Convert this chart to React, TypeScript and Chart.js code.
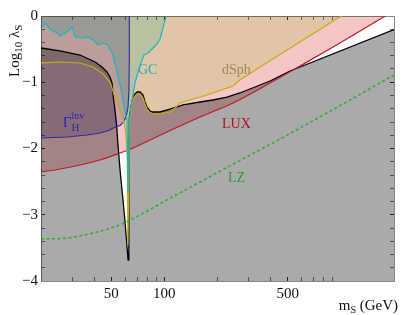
import React, { useEffect, useRef } from 'react';
import { Chart, registerables } from 'chart.js';

Chart.register(...registerables);

// ---- axis ticks ----
const X_TICKS = [30, 40, 50, 60, 70, 80, 90, 100, 200, 300, 400, 500, 600, 700, 800, 900];
const X_LABELS = [50, 100, 500];
const Y_MAJOR = [0, -1, -2, -3, -4];

// ---- relic abundance (black) ----
const RELIC_M = [20, 25.6, 33.3, 40.5, 44.3, 47.3, 49.2, 50.5, 51.2, 52.5, 53.6, 54.6, 56.1, 57.9, 59.4, 61.0, 62.3, 62.8, 63.0, 63.4, 64.7, 65.6, 67.3, 70.0, 72.8, 75.7, 77.7, 79.7, 82.9, 86.2, 94.5, 107.6, 127.5, 159.2, 188.6, 226.4, 268, 397, 515, 2000];
const RELIC_L = [-0.483, -0.528, -0.589, -0.694, -0.770, -0.845, -0.921, -1.011, -1.192, -1.419, -1.645, -1.947, -2.325, -2.702, -3.004, -3.381, -3.683, -3.23, -2.02, -1.525, -1.374, -1.298, -1.192, -1.147, -1.147, -1.192, -1.298, -1.374, -1.434, -1.449, -1.449, -1.404, -1.343, -1.298, -1.268, -1.223, -1.162, -0.981, -0.830, -0.205];

// ---- LUX (red) ----
const LUX_M = [20, 25.6, 33.3, 43.2, 56.1, 66.4, 103.5, 159.2, 244.8, 396.9, 587, 988.6, 1826, 2000];
const LUX_L = [-2.355, -2.309, -2.249, -2.174, -2.068, -1.992, -1.751, -1.525, -1.313, -1.011, -0.755, -0.408, 0.015, 0.075];

// ---- Higgs invisible width (blue) ----
const GINV_M = [20, 28.1, 36.4, 43.2, 49.2, 52.5, 56.1, 58.3, 60.6, 62.2, 63.0, 63.3, 63.3];
const GINV_L = [-1.842, -1.826, -1.796, -1.766, -1.721, -1.675, -1.653, -1.608, -1.525, -1.389, -1.117, -0.664, 0.02];

// ---- dSph (yellow) ----
const DSPH_M = [20, 25.6, 33.3, 39.4, 44.9, 49.2, 52.5, 56.1, 59.1, 60.6, 61.7, 62.1, 62.7, 63.2, 63.9, 65.6, 67.3, 70.0, 72.8, 75.7, 77.7, 79.7, 82.9, 86.2, 94.5, 107.6, 114.9, 122.6, 127.5, 174.4, 244.8, 268, 334.9, 495, 1028, 1126];
const DSPH_L = [-0.709, -0.694, -0.709, -0.770, -0.875, -0.996, -1.223, -1.419, -1.600, -1.796, -2.174, -3.457, -2.777, -1.721, -1.570, -1.328, -1.223, -1.177, -1.177, -1.238, -1.328, -1.404, -1.464, -1.479, -1.479, -1.449, -1.389, -1.313, -1.298, -1.192, -1.057, -0.966, -0.800, -0.513, 0.015, 0.075];

// ---- GC (cyan) ----
const GC_M = [20, 21.1, 22.5, 24.6, 25.6, 28.1, 30.0, 31.2, 34.2, 36.9, 39.4, 42.1, 44.9, 47.9, 50.5, 52.5, 54.6, 57.5, 59.1, 61.4, 61.9, 62.2, 62.6, 63.0, 63.9, 65.6, 68.2, 70.9, 74.7, 76.7, 80.8, 86.2, 90.8, 94.5, 98.2, 100.8, 103.5, 104.9];
const GC_L = [-0.196, -0.106, -0.196, -0.257, -0.302, -0.242, -0.166, -0.317, -0.332, -0.317, -0.362, -0.438, -0.408, -0.438, -0.558, -0.709, -0.921, -1.162, -1.374, -1.570, -2.174, -2.672, -2.174, -1.721, -1.464, -1.268, -1.011, -0.845, -0.664, -0.589, -0.558, -0.483, -0.423, -0.347, -0.181, -0.060, 0.015, 0.06];

// ---- LZ projection (green dashed) ----
const LZ_M = [20, 28.1, 39.4, 53.9, 72.8, 100.8, 159.2, 258, 452, 1126, 2000];
const LZ_L = [-3.366, -3.351, -3.275, -3.170, -3.004, -2.792, -2.506, -2.204, -1.857, -1.268, -0.891];

const SERIF = '"Liberation Serif", "Times New Roman", serif';
const font = (s: number) => `${s}px ${SERIF}`;

type Part = { t: string; s: number; dy?: number; stay?: boolean };
const TEXT_LABELS: { m: number; l: number; color: string; parts: Part[] }[] = [
  { m: 26.6, l: -1.676, color: '#2a2aa8', parts: [{ t: 'Γ', s: 15 }, { t: 'H', s: 11, dy: 4, stay: true }, { t: 'inv', s: 10, dy: -8 }] },
  { m: 70.9, l: -0.875, color: '#1fb2bb', parts: [{ t: 'GC', s: 14 }] },
  { m: 212, l: -0.875, color: '#a98256', parts: [{ t: 'dSph', s: 14 }] },
  { m: 212, l: -1.69, color: '#b01222', parts: [{ t: 'LUX', s: 14 }] },
  { m: 229, l: -2.506, color: '#2e9e2e', parts: [{ t: 'LZ', s: 14 }] },
];

const pts = (ms: number[], ls: number[]) => ms.map((m, i) => ({ x: m, y: ls[i] }));

const drawParts = (ctx: CanvasRenderingContext2D, parts: Part[], x: number, y: number) => {
  let cx = x;
  for (const p of parts) {
    ctx.font = font(p.s);
    ctx.fillText(p.t, cx, y + (p.dy || 0));
    if (!p.stay) cx += ctx.measureText(p.t).width;
  }
};
const partsWidth = (ctx: CanvasRenderingContext2D, parts: Part[]) => {
  let w = 0;
  for (const p of parts) {
    ctx.font = font(p.s);
    if (!p.stay) w += ctx.measureText(p.t).width;
  }
  return w;
};

const blendPlugin = {
  id: 'blendAndText',
  beforeDatasetsDraw(chart: any) {
    chart.ctx.globalCompositeOperation = 'multiply';
  },
  beforeDatasetDraw(chart: any, args: any) {
    const ds = chart.data.datasets[args.index];
    chart.ctx.globalCompositeOperation = ds.fill ? 'multiply' : 'source-over';
  },
  afterDatasetsDraw(chart: any) {
    chart.ctx.globalCompositeOperation = 'source-over';
  },
  afterDraw(chart: any) {
    const ctx: CanvasRenderingContext2D = chart.ctx;
    const xs = chart.scales.x;
    const ys = chart.scales.y;
    const ca = chart.chartArea;
    ctx.save();
    ctx.globalCompositeOperation = 'source-over';
    ctx.textAlign = 'left';
    ctx.textBaseline = 'alphabetic';
    for (const lab of TEXT_LABELS) {
      ctx.fillStyle = lab.color;
      drawParts(ctx, lab.parts, xs.getPixelForValue(lab.m), ys.getPixelForValue(lab.l));
    }
    ctx.fillStyle = '#111';
    const xt: Part[] = [{ t: 'm', s: 15 }, { t: 'S', s: 10, dy: 3 }, { t: ' (GeV)', s: 15 }];
    const w = partsWidth(ctx, xt);
    drawParts(ctx, xt, ca.right + 4 - w, ca.bottom + 29);
    ctx.save();
    ctx.translate(ca.left - 22, ca.top + 61);
    ctx.rotate(-Math.PI / 2);
    drawParts(ctx, [{ t: 'Log', s: 15 }, { t: '10', s: 11, dy: 3 }, { t: ' λ', s: 15 }, { t: 'S', s: 11, dy: 3 }], 0, 0);
    ctx.restore();
    ctx.restore();
  },
};

export default function App() {
  const ref = useRef<HTMLCanvasElement>(null);
  useEffect(() => {
    const canvas = ref.current;
    if (!canvas) return;

    const fillDs = (ms: number[], ls: number[], color: string, fill: string, order: number, mono = false) => ({
      data: pts(ms, ls),
      fill,
      backgroundColor: color,
      borderColor: 'rgba(0,0,0,0)',
      borderWidth: 0,
      pointRadius: 0,
      order,
      tension: 0,
      cubicInterpolationMode: mono ? 'monotone' : 'default',
    });
    const lineDs = (ms: number[], ls: number[], color: string, width: number, order: number, dash: number[] = [], mono = false) => ({
      data: pts(ms, ls),
      fill: false,
      borderColor: color,
      backgroundColor: color,
      borderWidth: width,
      borderDash: dash,
      pointRadius: 0,
      order,
      tension: 0,
      cubicInterpolationMode: mono ? 'monotone' : 'default',
    });

    const yTicks: number[] = [];
    for (let i = 0; i <= 20; i++) yTicks.push(Math.round((-4 + i * 0.2) * 10) / 10);

    const xTickCfg = (labels: boolean, h: number, pos: string) => ({
      type: 'logarithmic',
      position: pos,
      min: 20,
      max: 2000,
      z: 1,
      afterBuildTicks: (s: any) => { s.ticks = X_TICKS.map((v) => ({ value: v })); },
      afterFit: (s: any) => { s.height = h; },
      ticks: {
        display: labels,
        autoSkip: false,
        maxRotation: 0,
        minRotation: 0,
        padding: 8,
        color: '#111',
        font: { family: SERIF, size: 15 },
        callback: (v: any) => (X_LABELS.includes(Number(v)) ? String(v) : ''),
      },
      grid: {
        drawOnChartArea: false,
        drawTicks: true,
        tickLength: -4,
        tickWidth: 1,
        tickColor: (c: any) => (c.tick && X_LABELS.includes(c.tick.value) ? '#333' : '#777'),
      },
      border: { display: true, color: '#888', width: 1 },
    });
    const yTickCfg = (labels: boolean, w: number, pos: string) => ({
      type: 'linear',
      position: pos,
      min: -4,
      max: 0,
      z: 1,
      afterBuildTicks: (s: any) => { s.ticks = yTicks.map((v) => ({ value: v })); },
      afterFit: (s: any) => { s.width = w; },
      ticks: {
        display: labels,
        autoSkip: false,
        padding: 7,
        color: '#111',
        font: { family: SERIF, size: 15 },
        callback: (v: any) => {
          const n = Number(v);
          if (!Y_MAJOR.includes(n)) return '';
          return n === 0 ? '0' : '\u2212' + Math.abs(n);
        },
      },
      grid: {
        drawOnChartArea: false,
        drawTicks: true,
        tickLength: -4,
        tickWidth: 1,
        tickColor: (c: any) => (c.tick && Number.isInteger(c.tick.value) ? '#333' : '#777'),
      },
      border: { display: true, color: '#888', width: 1 },
    });

    const chart = new Chart(canvas, {
      type: 'line',
      data: {
        datasets: [
          // lines (drawn last, normal compositing)
          lineDs(LZ_M, LZ_L, '#2fae2f', 1.5, 1, [3, 2.5], true),
          lineDs(GC_M, GC_L, '#1eb5bf', 1.2, 2),
          lineDs(DSPH_M, DSPH_L, '#c4ac12', 1.2, 3),
          lineDs(GINV_M, GINV_L, '#2b2a9a', 1.1, 4),
          lineDs(LUX_M, LUX_L, '#c01a26', 1.2, 5, [], true),
          lineDs(RELIC_M, RELIC_L, '#000000', 1.3, 6),
          // filled regions (multiplied onto each other)
          fillDs(GC_M, GC_L, 'rgb(210,249,247)', 'end', 11),
          fillDs(DSPH_M, DSPH_L, 'rgb(234,255,215)', 'end', 12),
          fillDs(GINV_M, GINV_L, 'rgb(211,204,235)', 'end', 13),
          fillDs(LUX_M, LUX_L, 'rgb(245,198,198)', 'end', 14, true),
          fillDs(RELIC_M, RELIC_L, 'rgb(170,170,170)', 'start', 15),
        ] as any,
      },
      options: {
        responsive: false,
        maintainAspectRatio: false,
        animation: false,
        devicePixelRatio: 1,
        events: [],
        layout: { padding: 0 },
        plugins: { legend: { display: false }, tooltip: { enabled: false } },
        scales: {
          x: xTickCfg(true, 34, 'bottom'),
          x2: xTickCfg(false, 16, 'top'),
          y: yTickCfg(true, 41, 'left'),
          y2: yTickCfg(false, 13, 'right'),
        } as any,
      },
      plugins: [blendPlugin as any],
    });
    return () => chart.destroy();
  }, []);

  return (
    <div style={{ position: 'fixed', left: 0, top: 0, width: 407, height: 315, background: '#fff' }}>
      <canvas ref={ref} width={407} height={315} style={{ display: 'block', width: 407, height: 315 }} />
    </div>
  );
}
